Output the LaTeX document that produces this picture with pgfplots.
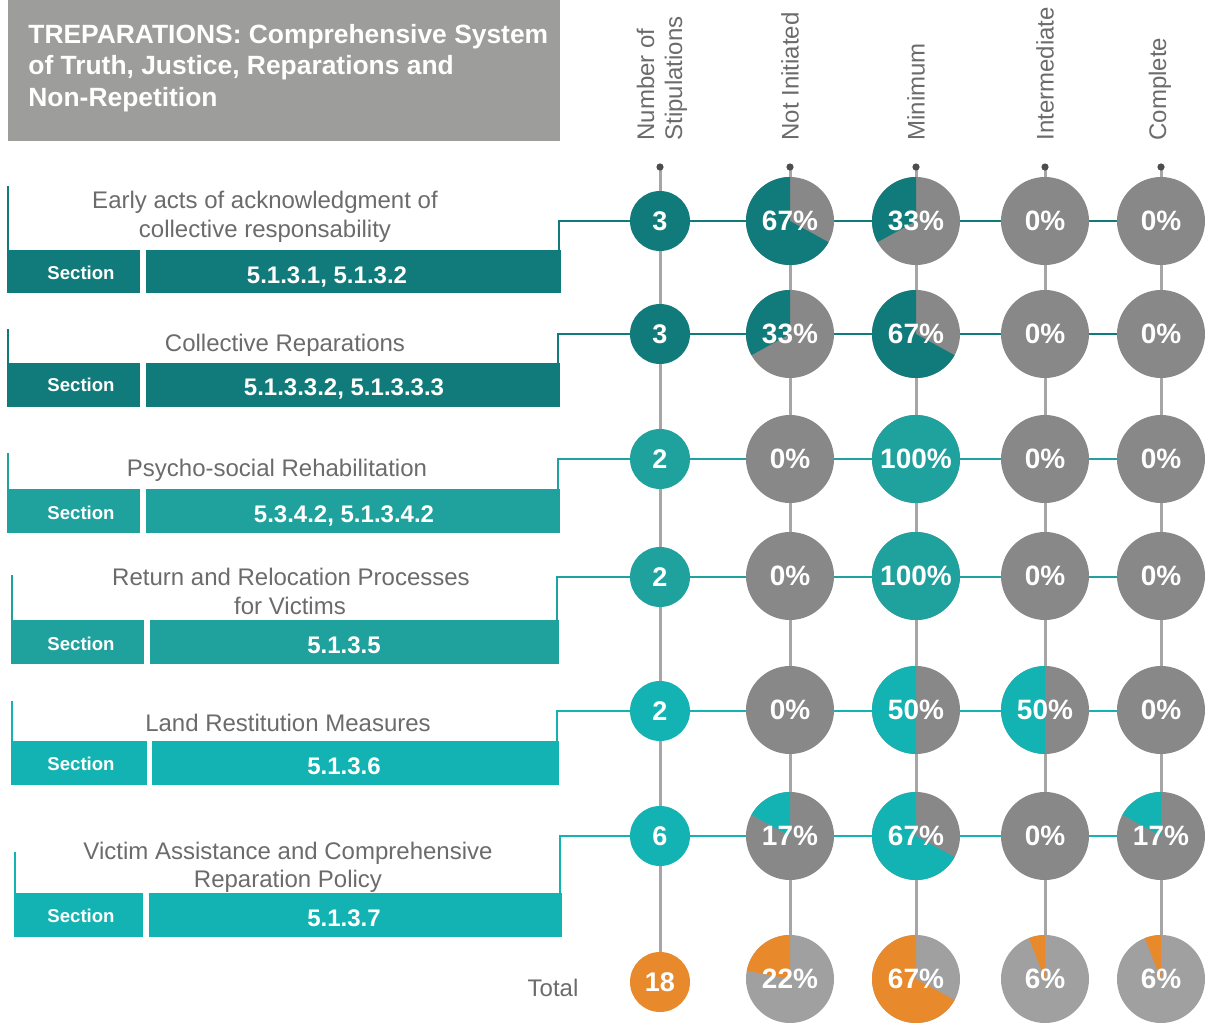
\documentclass[border=0pt]{standalone}
\usepackage{fontspec}
\setmainfont{Liberation Sans}
\usepackage{pgfplots}
\usepackage{pgfplotstable}
\pgfplotsset{compat=1.18}

\definecolor{tealA}{HTML}{107B7A}
\definecolor{tealB}{HTML}{1FA19D}
\definecolor{tealC}{HTML}{13B3B3}
\definecolor{totorange}{HTML}{E8892C}
\definecolor{piegray}{HTML}{888888}
\definecolor{totgray}{HTML}{A0A0A0}
\definecolor{linegray}{HTML}{A6A6A6}
\definecolor{txtgray}{HTML}{6B6B6B}
\definecolor{titlegray}{HTML}{9D9D9B}
\definecolor{dotgray}{HTML}{4D4D4D}

\newcommand{\lblfont}{\fontsize{12}{14}\selectfont}

% plain filled disc (no outline)
\pgfdeclareplotmark{disc}{%
  \pgfpathcircle{\pgfpointorigin}{\pgfplotmarksize}%
  \pgfusepathqfill}
% wedge from 12 o'clock, counter-clockwise, share taken from the point meta (0..100 -> 0..1000)
\pgfdeclareplotmark{wedge}{%
  \ifdim\pgfplotspointmetatransformed pt>0.5pt
    \pgfmathsetmacro\pieend{90+0.36*\pgfplotspointmetatransformed}%
    \pgfpathmoveto{\pgfpointorigin}%
    \pgfpathlineto{\pgfqpoint{0pt}{\pgfplotmarksize}}%
    \pgfpatharc{90}{\pieend}{\pgfplotmarksize}%
    \pgfpathclose
    \pgfusepathqfill
  \fi}

\tikzset{
  lab/.style={anchor=base, inner sep=0pt, text=txtgray, font=\lblfont},
  sec/.style={anchor=base, inner sep=0pt, text=white, font=\bfseries\fontsize{9.3}{11}\selectfont},
  num/.style={anchor=base, inner sep=0pt, text=white, font=\bfseries\fontsize{12}{14}\selectfont},
  ttl/.style={anchor=base west, inner sep=0pt, text=white, font=\bfseries\fontsize{13.2}{15}\selectfont},
  hdr/.style={rotate=90, anchor=west, inner sep=0pt, align=left, text=txtgray, font=\fontsize{12}{14}\selectfont},
}

\pgfplotsset{
  disc/.style 2 args={only marks, mark=disc, mark size=#2,
    mark options={fill=#1}},
  share/.style={scatter, only marks, mark=wedge, mark size=22pt,
    point meta=explicit, scatter/use mapped color={draw=none, fill=#1}},
  vals/.style 2 args={draw=none, mark=none, point meta=explicit,
    nodes near coords=#1,
    nodes near coords style={anchor=center, text=white, inner sep=0pt,
      font=\bfseries\fontsize{#2}{16}\selectfont}},
  link/.style={#1, line width=1.4pt, mark=none},
  vline/.style={linegray, line width=1.5pt, mark=none},
}

% status shares in %: x = column, y = row
\pgfplotstableread{
x y v
790 221 67
916 221 33
1045 221 0
1161 221 0
790 334 33
916 334 67
1045 334 0
1161 334 0
}\pieA
\pgfplotstableread{
x y v
790 459 0
916 459 100
1045 459 0
1161 459 0
790 576 0
916 576 100
1045 576 0
1161 576 0
}\pieB
\pgfplotstableread{
x y v
790 710 0
916 710 50
1045 710 50
1161 710 0
790 836 17
916 836 67
1045 836 0
1161 836 17
}\pieC
\pgfplotstableread{
x y v
790 979 22
916 979 67
1045 979 6
1161 979 6
}\pieT
% number of stipulations
\pgfplotstableread{
x y n
660 221 3
660 334 3
}\stA
\pgfplotstableread{
x y n
660 459 2
660 577 2
}\stB
\pgfplotstableread{
x y n
660 711 2
660 836 6
}\stC
\pgfplotstableread{
x y n
660 982 18
}\stT

\newcommand{\pct}{\pgfmathprintnumber{\pgfplotspointmeta}\%}
\newcommand{\cnt}{\pgfmathprintnumber{\pgfplotspointmeta}}

\begin{document}
\begin{tikzpicture}
\begin{axis}[
  x=0.5pt, y=0.5pt, y dir=reverse,
  xmin=0, xmax=1207, ymin=0, ymax=1023,
  hide axis, clip=false,
  point meta min=0, point meta max=100,
  /pgf/number format/assume math mode=true,
]
\path (0,0) rectangle (1207,1023);

% title block
\fill[titlegray] (8,0) rectangle (560,141);
\node[ttl] at (28,43) {TREPARATIONS: Comprehensive System};
\node[ttl] at (28,74) {of Truth, Justice, Reparations and};
\node[ttl] at (28,106) {Non-Repetition};

% column headers
\node[hdr] at (662,141) {Number of\\Stipulations};
\node[hdr] at (790,141) {Not Initiated};
\node[hdr] at (916,141) {Minimum};
\node[hdr] at (1045,141) {Intermediate};
\node[hdr] at (1160,141) {Complete};

% vertical guide lines
\addplot[vline] coordinates {(660,167) (660,982)};
\addplot[vline] coordinates {(790,167) (790,979)};
\addplot[vline] coordinates {(916,167) (916,979)};
\addplot[vline] coordinates {(1045,167) (1045,979)};
\addplot[vline] coordinates {(1161,167) (1161,979)};
\addplot[only marks, mark=disc, mark size=1.8pt, mark options={fill=dotgray}]
  coordinates {(660,167) (790,167) (916,167) (1045,167) (1161,167)};

% row 1
\draw[tealA, line width=1pt] (8,186) -- (8,293);
\fill[tealA] (8,250) rectangle (140,293);
\fill[tealA] (146,250) rectangle (561,293);
\node[lab] at (265,208) {Early acts of acknowledgment of};
\node[lab] at (265,237) {collective responsability};
\node[sec] at (81,279) {Section};
\node[num] at (327,283) {5.1.3.1, 5.1.3.2};
\addplot[link=tealA] coordinates {(559,250) (559,221) (1161,221)};

% row 2
\draw[tealA, line width=1pt] (8,329) -- (8,407);
\fill[tealA] (8,363) rectangle (140,407);
\fill[tealA] (146,363) rectangle (560,407);
\node[lab] at (285,351) {Collective Reparations};
\node[sec] at (81,391) {Section};
\node[num] at (344,395) {5.1.3.3.2, 5.1.3.3.3};
\addplot[link=tealA] coordinates {(558,363) (558,334) (1161,334)};

% row 3
\draw[tealB, line width=1pt] (8,453) -- (8,533);
\fill[tealB] (8,489) rectangle (140,533);
\fill[tealB] (146,489) rectangle (560,533);
\node[lab] at (277,476) {Psycho-social Rehabilitation};
\node[sec] at (81,519) {Section};
\node[num] at (344,522) {5.3.4.2, 5.1.3.4.2};
\addplot[link=tealB] coordinates {(558,489) (558,459) (1161,459)};

% row 4
\draw[tealB, line width=1pt] (12,575) -- (12,664);
\fill[tealB] (12,620) rectangle (144,664);
\fill[tealB] (150,620) rectangle (559,664);
\node[lab] at (291,585) {Return and Relocation Processes};
\node[lab] at (290,614) {for Victims};
\node[sec] at (81,650) {Section};
\node[num] at (344,653) {5.1.3.5};
\addplot[link=tealB] coordinates {(557,620) (557,577) (1161,577)};

% row 5
\draw[tealC, line width=1pt] (12,701) -- (12,785);
\fill[tealC] (12,741) rectangle (147,785);
\fill[tealC] (152,741) rectangle (559,785);
\node[lab] at (288,731) {Land Restitution Measures};
\node[sec] at (81,770) {Section};
\node[num] at (344,774) {5.1.3.6};
\addplot[link=tealC] coordinates {(557,741) (557,711) (1161,711)};

% row 6
\draw[tealC, line width=1pt] (15,852) -- (15,937);
\fill[tealC] (15,893) rectangle (143,937);
\fill[tealC] (149,893) rectangle (562,937);
\node[lab] at (288,859) {Victim Assistance and Comprehensive};
\node[lab] at (288,887) {Reparation Policy};
\node[sec] at (81,922) {Section};
\node[num] at (344,926) {5.1.3.7};
\addplot[link=tealC] coordinates {(560,893) (560,836) (1161,836)};

\node[lab] at (553,996) {Total};

% number of stipulations
\addplot[disc={tealA}{15pt}] table[x=x, y=y] {\stA};
\addplot[disc={tealB}{15pt}] table[x=x, y=y] {\stB};
\addplot[disc={tealC}{15pt}] table[x=x, y=y] {\stC};
\addplot[disc={totorange}{15pt}] table[x=x, y=y] {\stT};
\addplot[vals={\cnt}{13.5}] table[x=x, y=y, meta=n] {\stA};
\addplot[vals={\cnt}{13.5}] table[x=x, y=y, meta=n] {\stB};
\addplot[vals={\cnt}{13.5}] table[x=x, y=y, meta=n] {\stC};
\addplot[vals={\cnt}{13.5}] table[x=x, y=y, meta=n] {\stT};

% status pies
\addplot[disc={piegray}{22pt}] table[x=x, y=y] {\pieA};
\addplot[disc={piegray}{22pt}] table[x=x, y=y] {\pieB};
\addplot[disc={piegray}{22pt}] table[x=x, y=y] {\pieC};
\addplot[disc={totgray}{22pt}] table[x=x, y=y] {\pieT};
\addplot[share=tealA] table[x=x, y=y, meta=v] {\pieA};
\addplot[share=tealB] table[x=x, y=y, meta=v] {\pieB};
\addplot[share=tealC] table[x=x, y=y, meta=v] {\pieC};
\addplot[share=totorange] table[x=x, y=y, meta=v] {\pieT};
\addplot[vals={\pct}{14}] table[x=x, y=y, meta=v] {\pieA};
\addplot[vals={\pct}{14}] table[x=x, y=y, meta=v] {\pieB};
\addplot[vals={\pct}{14}] table[x=x, y=y, meta=v] {\pieC};
\addplot[vals={\pct}{14}] table[x=x, y=y, meta=v] {\pieT};
\end{axis}
\end{tikzpicture}
\end{document}
